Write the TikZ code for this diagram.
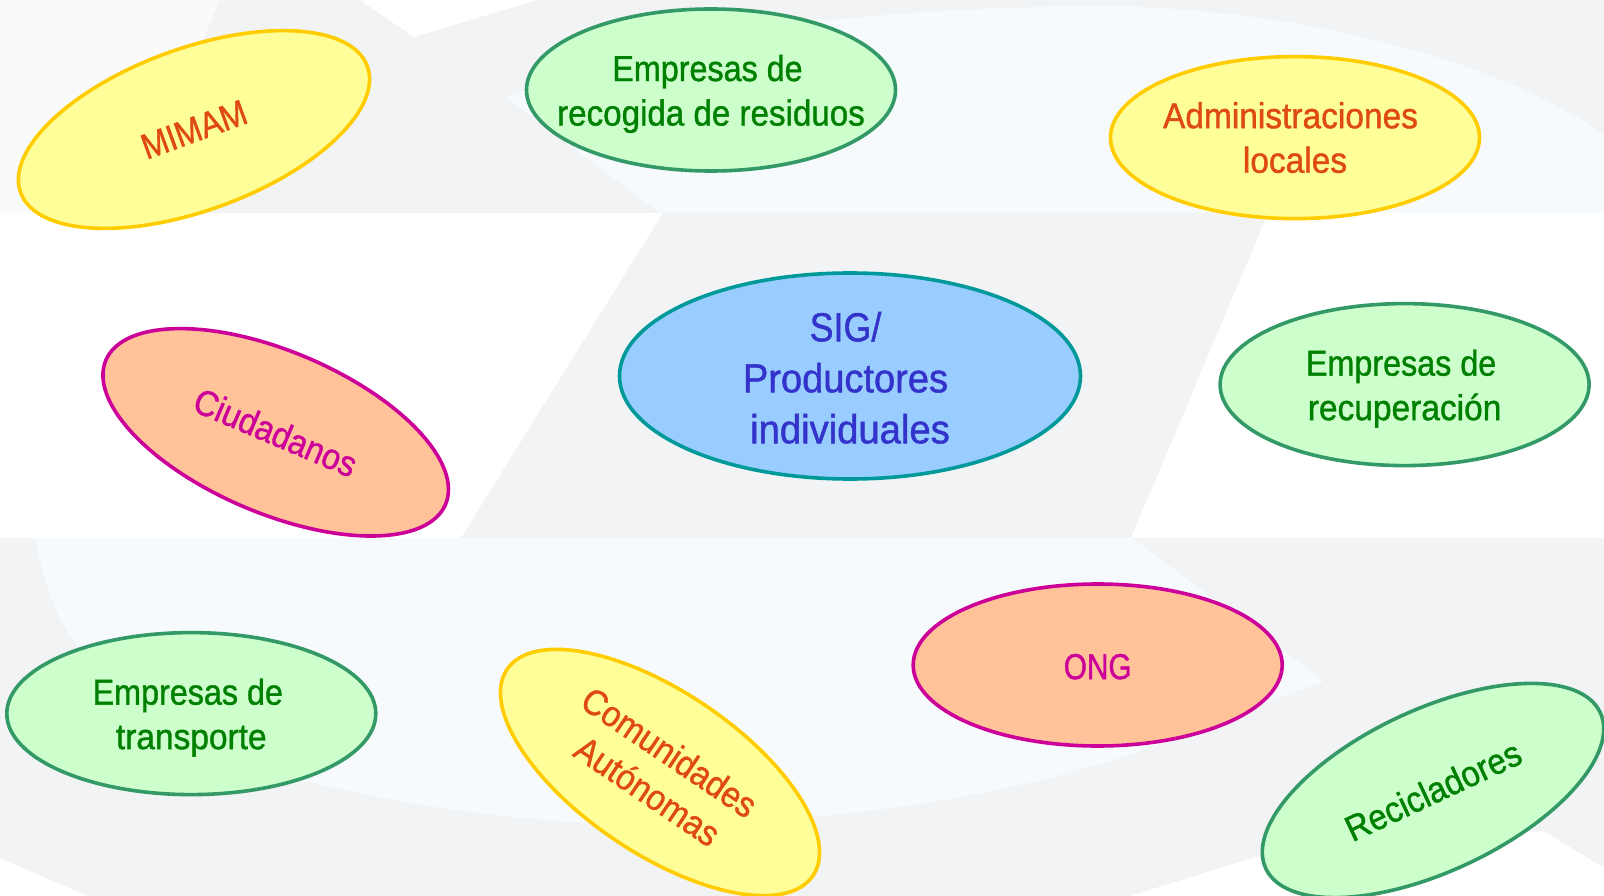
\documentclass[tikz,border=0pt]{standalone}
\usepackage{graphicx}
\usepackage{fontspec}
\setmainfont[FakeStretch=0.93,FakeBold=1.1]{Liberation Sans}
\usetikzlibrary{shapes.geometric}
\definecolor{bgGray}{HTML}{F1F3F5}
\definecolor{bgSoft}{HTML}{F9FAFB}
\definecolor{bgLight}{HTML}{F7FAFC}
\definecolor{greenFill}{HTML}{CCFFCC}
\definecolor{greenLine}{HTML}{339966}
\definecolor{greenText}{HTML}{008000}
\definecolor{yellowFill}{HTML}{FFFF99}
\definecolor{yellowLine}{HTML}{FFCC00}
\definecolor{redText}{HTML}{DF4A10}
\definecolor{peachFill}{HTML}{FFC299}
\definecolor{pinkLine}{HTML}{CC0099}
\definecolor{blueFill}{HTML}{99CCFF}
\definecolor{tealLine}{HTML}{009999}
\definecolor{blueText}{HTML}{3333CC}
\newcommand\sxw[2]{\scalebox{#1}[1]{#2}}
\newcommand\dnw[1]{\rule{0pt}{#1}}
\tikzset{
  blob/.style={ellipse,line width=3.6pt,inner sep=0pt,align=center,
    minimum width=369pt,minimum height=162pt,
    font=\fontsize{36}{44.5}\selectfont},
  greenblob/.style={blob,draw=greenLine,fill=greenFill,text=greenText},
  yellowblob/.style={blob,draw=yellowLine,fill=yellowFill,text=redText},
  peachblob/.style={blob,draw=pinkLine,fill=peachFill,text=pinkLine},
  blueblob/.style={blob,draw=tealLine,fill=blueFill,text=blueText,
    minimum width=461pt,minimum height=206pt,
    font=\fontsize{40.5}{51}\selectfont}
}
\begin{document}
\begin{tikzpicture}[x=1pt,y=-1pt]
\useasboundingbox (0,0) rectangle (1604,896);
\clip (0,0) rectangle (1604,896);
% background
\fill[white] (0,0) rectangle (1604,896);
\fill[bgSoft] (0,0) rectangle (220,213);
\fill[bgGray] (220,0) -- (1604,0) -- (1604,213) -- (130,213) -- cycle;
\fill[white] (360,0) -- (414,37) -- (537,0) -- cycle;
\fill[bgLight] (660,213) -- (506,97) .. controls (700,22) and (900,8) .. (1100,6)
  .. controls (1300,8) and (1500,60) .. (1604,135) -- (1604,213) -- cycle;
\fill[bgGray] (663,213) -- (1268,213) -- (1131,538) -- (461,538) -- cycle;
\fill[bgGray] (0,538) rectangle (1604,896);
\fill[bgLight] (35,538) .. controls (45,590) and (60,625) .. (77,645)
  .. controls (140,720) and (220,760) .. (307,781)
  .. controls (400,805) and (500,818) .. (588,823)
  .. controls (800,830) and (1000,800) .. (1140,751)
  -- (1324,681) -- (1132,538) -- cycle;
\fill[white] (0,858) -- (87,896) -- (0,896) -- cycle;
\fill[white] (1130,896) -- (1262,855) -- (1544,831) -- (1604,868) -- (1604,896) -- cycle;
% ellipses
\node[yellowblob,rotate=20] (mimam) at (194,129.5) {\sxw{0.95}{MIMAM}};
\node[greenblob] (recogida) at (711,90) {\dnw{34pt}\hspace*{-7pt}\sxw{0.965}{Empresas de}\\\makebox[0pt]{\sxw{0.99}{recogida de residuos}}};
\node[yellowblob] (admin) at (1295,137.6) {\hspace*{-9pt}Administraciones\\locales};
\node[peachblob,rotate=-23] (ciudadanos) at (275.7,432.3) {\sxw{0.97}{Ciudadanos}};
\node[blueblob] (sig) at (850,376) {\dnw{33pt}\hspace*{-9pt}\sxw{0.95}{SIG/}\\\hspace*{-9pt}\sxw{1.01}{Productores}\\\sxw{1.015}{individuales}};
\node[greenblob] (recuperacion) at (1404.6,384.6) {\dnw{34pt}\hspace*{-7pt}\sxw{0.965}{Empresas de}\\recuperación};
\node[greenblob] (transporte) at (191.3,713.6) {\dnw{34pt}\hspace*{-7pt}\sxw{0.965}{Empresas de}\\transporte};
\node[yellowblob,rotate=-34] (comunidades) at (660,772.5) {\hspace*{-7pt}\sxw{0.98}{Comunidades}\\\sxw{0.98}{Autónomas}};
\node[peachblob] (ong) at (1097.7,665) {\dnw{28.5pt}\sxw{0.89}{ONG}};
\node[greenblob,rotate=25] (recicladores) at (1433,790.5) {\sxw{0.98}{Recicladores}};
\end{tikzpicture}
\end{document}
